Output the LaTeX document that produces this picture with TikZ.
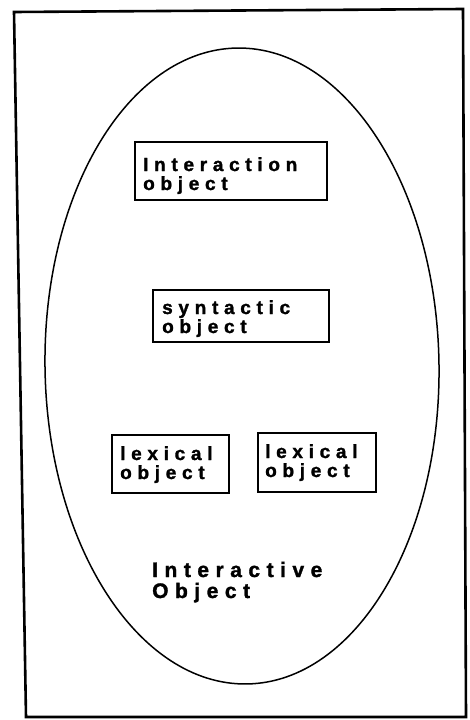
\documentclass[tikz,border=0pt]{standalone}
\usepackage{fontspec}
\newfontfamily\lblfont[LetterSpace=30,FakeBold=1.5]{Liberation Sans Bold}
\newfontfamily\bigfont[LetterSpace=31,FakeBold=1.5]{Liberation Sans Bold}
\begin{document}
\begin{tikzpicture}[x=1pt,y=-1pt,
  objbox/.style={draw,line width=1.6pt,inner sep=0pt},
  boxtext/.style={anchor=base west,inner sep=0pt,align=left,
    font=\lblfont\fontsize{19}{19}\selectfont},
  bigtext/.style={anchor=base west,inner sep=0pt,align=left,
    font=\bigfont\fontsize{21}{21}\selectfont}]
\useasboundingbox (0,0) rectangle (470,720);
\fill[white] (0,0) rectangle (470,720);
% outer frame
\draw[line width=2.6pt,line join=miter] (14,12) -- (463,9) -- (466,717) -- (26,717) -- cycle;
% ellipse
\draw[line width=1.5pt,rotate around={0.9:(242,366)}] (242,366) ellipse [x radius=197, y radius=318];
% boxes
\node[objbox,minimum width=192pt,minimum height=58pt] (b1) at (231,171) {};
\node[objbox,minimum width=176pt,minimum height=52pt] (b2) at (241,316) {};
\node[objbox,minimum width=117pt,minimum height=58pt] (b3) at (170.5,464) {};
\node[objbox,minimum width=118pt,minimum height=59pt] (b4) at (317,462.5) {};
% texts (anchored at the baseline of the last line)
\node[boxtext] (t1) at (143,190) {Interaction\\object};
\node[boxtext] (t2) at (162,333) {syntactic\\object};
\node[boxtext] (t3) at (120,479) {lexical\\object};
\node[boxtext] (t4) at (265,477) {lexical\\object};
\node[bigtext] (t5) at (152,598) {Interactive\\Object};
\end{tikzpicture}
\end{document}
